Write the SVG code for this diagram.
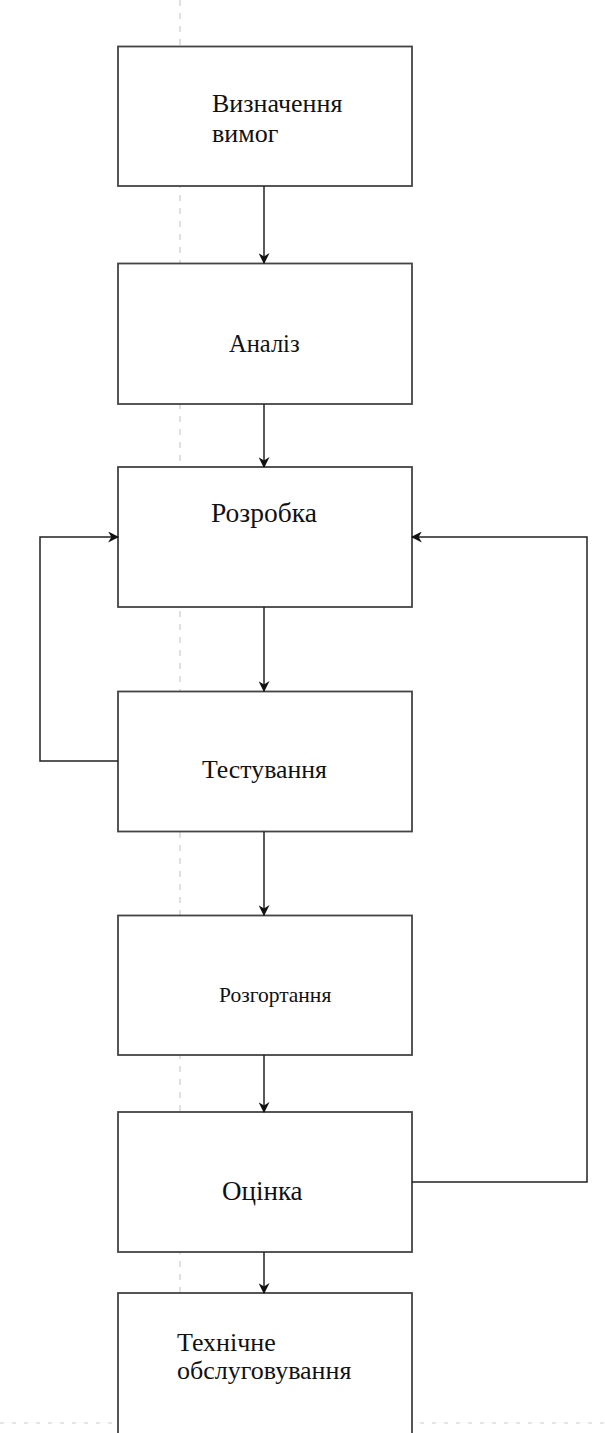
<svg xmlns="http://www.w3.org/2000/svg" width="605" height="1433" viewBox="0 0 605 1433">
  <style>
    .box { fill: #ffffff; stroke: #444444; stroke-width: 1.8; }
    .lbl { font-family: "Liberation Serif", "Times New Roman", serif; fill: #111111; }
    .wire { fill: none; stroke: #222222; stroke-width: 1.5; }
    .guide { fill: none; stroke: #cccccc; stroke-width: 1.2; }
  </style>
  <defs>
    <marker id="arrow" viewBox="0 0 10 10" refX="9" refY="5" markerWidth="11" markerHeight="11" markerUnits="userSpaceOnUse" orient="auto">
      <path d="M0,0 L10,5 L0,10 L3,5 Z" fill="#111111"/>
    </marker>
  </defs>

  <rect width="605" height="1433" fill="#ffffff"/>

  <!-- page guides -->
  <g id="guides">
    <line class="guide" x1="180" y1="0" x2="180" y2="1292" stroke-dasharray="6 7"/>
    <line class="guide" x1="0" y1="1423" x2="605" y2="1423" stroke-dasharray="4 8"/>
  </g>

  <g id="node-requirements">
    <rect class="box" x="118" y="46.5" width="294" height="139.5"/>
    <text class="lbl" x="212" y="112" font-size="26">Визначення</text>
    <text class="lbl" x="212" y="142" font-size="26">вимог</text>
  </g>

  <g id="node-analysis">
    <rect class="box" x="118" y="263.5" width="294" height="140.5"/>
    <text class="lbl" x="229" y="352" font-size="24.5">Аналіз</text>
  </g>

  <g id="node-development">
    <rect class="box" x="118" y="467" width="294" height="140"/>
    <text class="lbl" x="211" y="522" font-size="27.5">Розробка</text>
  </g>

  <g id="node-testing">
    <rect class="box" x="118" y="691.5" width="294" height="140"/>
    <text class="lbl" x="202" y="778" font-size="25.8">Тестування</text>
  </g>

  <g id="node-deployment">
    <rect class="box" x="118" y="915.5" width="294" height="139.5"/>
    <text class="lbl" x="219" y="1002" font-size="21.5">Розгортання</text>
  </g>

  <g id="node-evaluation">
    <rect class="box" x="118" y="1112" width="294" height="140"/>
    <text class="lbl" x="222" y="1200" font-size="27">Оцінка</text>
  </g>

  <g id="node-maintenance">
    <rect class="box" x="118" y="1293" width="294" height="150"/>
    <text class="lbl" x="177" y="1351" font-size="26">Технічне</text>
    <text class="lbl" x="177" y="1379" font-size="26">обслуговування</text>
  </g>

  <g id="connectors">
    <line class="wire" x1="264" y1="186" x2="264" y2="263" marker-end="url(#arrow)"/>
    <line class="wire" x1="264" y1="404" x2="264" y2="467" marker-end="url(#arrow)"/>
    <line class="wire" x1="264" y1="607" x2="264" y2="691" marker-end="url(#arrow)"/>
    <line class="wire" x1="264" y1="831.5" x2="264" y2="915" marker-end="url(#arrow)"/>
    <line class="wire" x1="264" y1="1055" x2="264" y2="1112" marker-end="url(#arrow)"/>
    <line class="wire" x1="264" y1="1252" x2="264" y2="1293" marker-end="url(#arrow)"/>
    <!-- testing loops back to development -->
    <polyline class="wire" points="118,761 40,761 40,537 118,537" marker-end="url(#arrow)"/>
    <!-- evaluation loops back to development -->
    <polyline class="wire" points="412,1182 587,1182 587,537 412,537" marker-end="url(#arrow)"/>
  </g>
</svg>
